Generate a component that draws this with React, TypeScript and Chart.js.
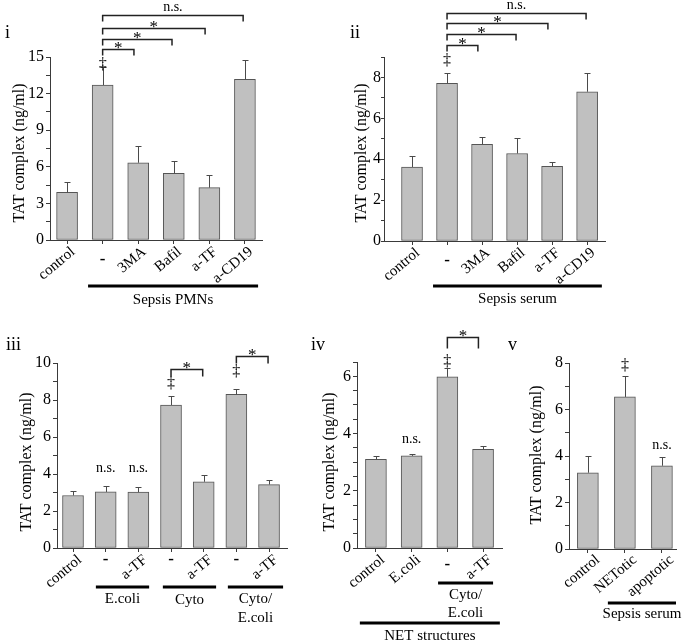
import React, { useEffect, useRef } from 'react';
import { Chart, registerables } from 'chart.js';

Chart.register(...registerables);

const FONT = '"Liberation Serif", "Times New Roman", Times, serif';
const W = 685;
const H = 644;
const YW = 40;
const XH = 10;

// ---------------- data ----------------
// panel i : Sepsis PMNs
const catsI = ['control', '-', '3MA', 'Bafil', 'a-TF', 'a-CD19'];
const meanI = [3.9, 12.7, 6.33, 5.46, 4.29, 13.17];
const errI = [4.73, 14.2, 7.7, 6.5, 5.33, 14.75];
const yAxisI = [15, 1.5, 3]; // max, tick step, labelled step

// panel ii : Sepsis serum
const catsII = ['control', '-', '3MA', 'Bafil', 'a-TF', 'a-CD19'];
const meanII = [3.62, 7.71, 4.73, 4.28, 3.65, 7.3];
const errII = [4.15, 8.2, 5.08, 5.05, 3.87, 8.2];
const yAxisII = [9, 1, 2];

// panel iii : E.coli / Cyto / Cyto+E.coli
const catsIII = ['control', '-', 'a-TF', '-', 'a-TF', '-', 'a-TF'];
const meanIII = [2.84, 3.03, 3.02, 7.73, 3.58, 8.3, 3.43];
const errIII = [3.06, 3.35, 3.3, 8.2, 3.92, 8.62, 3.68];
const yAxisIII = [10, 1, 2];

// panel iv : NET structures
const catsIV = ['control', 'E.coli', '-', 'a-TF'];
const meanIV = [3.1, 3.22, 5.98, 3.45];
const errIV = [3.22, 3.3, 6.3, 3.57];
const yAxisIV = [6.5, 0.5, 2];

// panel v : Sepsis serum
const catsV = ['control', 'NETotic', 'apoptotic'];
const meanV = [3.28, 6.54, 3.58];
const errV = [3.98, 7.42, 3.96];
const yAxisV = [8, 1, 2];

// significance brackets: [from index, to index, y value, text]
const bracketsI: [number, number, number, string][] = [
  [1, 1.88, 15.66, '*'],
  [1, 2.95, 16.48, '*'],
  [1, 3.88, 17.38, '*'],
  [1, 4.95, 18.44, 'n.s.'],
];
const bracketsII: [number, number, number, string][] = [
  [1, 1.88, 9.59, '*'],
  [1, 2.97, 10.13, '*'],
  [1, 3.88, 10.67, '*'],
  [1, 4.97, 11.15, 'n.s.'],
];
const bracketsIII: [number, number, number, string][] = [
  [3, 3.97, 9.68, '*'],
  [5, 5.97, 10.38, '*'],
];
const bracketsIV: [number, number, number, string][] = [[2, 2.87, 7.38, '*']];
const bracketsV: [number, number, number, string][] = [];

// marks above bars: [index, y value, text]
const marksI: [number, number, string][] = [[1, 14.34, '‡']];
const marksII: [number, number, string][] = [[1, 8.8, '‡']];
const marksIII: [number, number, string][] = [
  [1, 4.3, 'n.s.'],
  [2, 4.3, 'n.s.'],
  [3, 8.9, '‡'],
  [5, 9.5, '‡'],
];
const marksIV: [number, number, string][] = [
  [1, 3.81, 'n.s.'],
  [2, 6.5, '‡'],
];
const marksV: [number, number, string][] = [
  [1, 7.9, '‡'],
  [2, 4.47, 'n.s.'],
];

// group labels under the axis
const groupNamesI = [['Sepsis PMNs']];
const groupNamesII = [['Sepsis serum']];
const groupNamesIII = [['E.coli'], ['Cyto'], ['Cyto/', 'E.coli']];
const groupNamesIV = [['Cyto/', 'E.coli'], ['NET structures']];
const groupNamesV = [['Sepsis serum']];

const TITLE = 'TAT complex (ng/ml)';

// ---------------- layout (positions & styles) ----------------
type Layout = {
  name: string;
  nameX: number;
  nameY: number;
  area: [number, number, number, number]; // left, top, right, bottom
  xRange: [number, number];
  titleX: number;
  titleY: number;
  labelDx: number;
  labelDy: number;
  dashDy: number;
  tickLen: number;
  tickPad: number;
  groups: { from: number; to: number; lineDy: number; textDy: number; lineGap: number }[];
  bracketDrop: number;
};

const ROT = (40 * Math.PI) / 180;

const layoutI: Layout = {
  name: 'i', nameX: 5, nameY: 33, area: [50, 57, 262, 240], xRange: [-0.48, 5.48],
  titleX: 20, titleY: 153, labelDx: 6, labelDy: 10, dashDy: 20, tickLen: 4, tickPad: 2,
  groups: [{ from: 0.59, to: 5.37, lineDy: 46, textDy: 60, lineGap: 20 }], bracketDrop: 6,
};
const layoutII: Layout = {
  name: 'ii', nameX: 350, nameY: 33, area: [384, 57, 605, 241], xRange: [-0.8, 5.51],
  titleX: 362, titleY: 153, labelDx: 6, labelDy: 10, dashDy: 20, tickLen: 3, tickPad: 0,
  groups: [{ from: 0.6, to: 5.42, lineDy: 45, textDy: 58, lineGap: 20 }], bracketDrop: 6,
};
const layoutIII: Layout = {
  name: 'iii', nameX: 6, nameY: 345, area: [57, 363, 287, 548], xRange: [-0.49, 6.55],
  titleX: 27, titleY: 462, labelDx: 7, labelDy: 10, dashDy: 12, tickLen: 4, tickPad: 2,
  groups: [
    { from: 0.7, to: 2.33, lineDy: 39, textDy: 51, lineGap: 20 },
    { from: 2.75, to: 4.38, lineDy: 39, textDy: 52, lineGap: 20 },
    { from: 4.74, to: 6.43, lineDy: 39, textDy: 51, lineGap: 19 },
  ], bracketDrop: 7,
};
const layoutIV: Layout = {
  name: 'iv', nameX: 311, nameY: 345, area: [357, 362, 502, 548], xRange: [-0.53, 3.53],
  titleX: 330, titleY: 462, labelDx: 7, labelDy: 10, dashDy: 17, tickLen: 4, tickPad: 2,
  groups: [
    { from: 1.74, to: 3.28, lineDy: 35, textDy: 47, lineGap: 18 },
    { from: -0.45, to: 3.47, lineDy: 75, textDy: 88, lineGap: 20 },
  ], bracketDrop: 11,
};
const layoutV: Layout = {
  name: 'v', nameX: 508, nameY: 345, area: [569, 363, 676, 549], xRange: [-0.51, 2.38],
  titleX: 537, titleY: 455, labelDx: 10, labelDy: 9, dashDy: 17, tickLen: 4, tickPad: 2,
  groups: [{ from: 0.54, to: 2.38, lineDy: 54, textDy: 65, lineGap: 20 }], bracketDrop: 6,
};

type PanelCfg = {
  cats: string[];
  mean: number[];
  err: number[];
  yAxis: number[];
  brackets: [number, number, number, string][];
  marks: [number, number, string][];
  groupNames: string[][];
  layout: Layout;
};

const panels: PanelCfg[] = [
  { cats: catsI, mean: meanI, err: errI, yAxis: yAxisI, brackets: bracketsI, marks: marksI, groupNames: groupNamesI, layout: layoutI },
  { cats: catsII, mean: meanII, err: errII, yAxis: yAxisII, brackets: bracketsII, marks: marksII, groupNames: groupNamesII, layout: layoutII },
  { cats: catsIII, mean: meanIII, err: errIII, yAxis: yAxisIII, brackets: bracketsIII, marks: marksIII, groupNames: groupNamesIII, layout: layoutIII },
  { cats: catsIV, mean: meanIV, err: errIV, yAxis: yAxisIV, brackets: bracketsIV, marks: marksIV, groupNames: groupNamesIV, layout: layoutIV },
  { cats: catsV, mean: meanV, err: errV, yAxis: yAxisV, brackets: bracketsV, marks: marksV, groupNames: groupNamesV, layout: layoutV },
];

const AXIS = '#3a3a3a';
const BAR_FILL = '#c0c0c0';
const BAR_EDGE = '#555555';

function overlay(p: PanelCfg) {
  const L = p.layout;
  return {
    id: 'overlay_' + L.name,
    afterDatasetsDraw(chart: any) {
      const ctx = chart.ctx as CanvasRenderingContext2D;
      const y = chart.scales.y;
      const meta = chart.getDatasetMeta(0);
      ctx.save();
      ctx.strokeStyle = '#4a4a4a';
      ctx.lineWidth = 1;
      meta.data.forEach((el: any, i: number) => {
        const cx = Math.round(el.x) + 0.5;
        const top = y.getPixelForValue(p.mean[i]);
        const e = Math.round(y.getPixelForValue(p.err[i])) + 0.5;
        ctx.beginPath();
        ctx.moveTo(cx, top);
        ctx.lineTo(cx, e);
        ctx.moveTo(cx - 3, e);
        ctx.lineTo(cx + 3, e);
        ctx.stroke();
      });
      ctx.restore();
    },
    afterDraw(chart: any) {
      const ctx = chart.ctx as CanvasRenderingContext2D;
      const x = chart.scales.x;
      const y = chart.scales.y;
      const bottom = chart.chartArea.bottom;
      ctx.save();
      ctx.fillStyle = '#000';
      ctx.strokeStyle = '#222';

      // panel name
      ctx.font = `18px ${FONT}`;
      ctx.textAlign = 'left';
      ctx.textBaseline = 'middle';
      ctx.fillText(L.name, L.nameX, L.nameY);

      // y title
      ctx.save();
      ctx.translate(L.titleX, L.titleY);
      ctx.rotate(-Math.PI / 2);
      ctx.font = `16px ${FONT}`;
      ctx.textAlign = 'center';
      ctx.textBaseline = 'middle';
      ctx.fillText(TITLE, 0, 0);
      ctx.restore();

      // category labels
      p.cats.forEach((c, i) => {
        const px = x.getPixelForValue(i);
        if (c === '-') {
          ctx.font = `bold 17px ${FONT}`;
          ctx.textAlign = 'center';
          ctx.textBaseline = 'middle';
          ctx.fillText('-', px, bottom + L.dashDy);
        } else {
          ctx.save();
          ctx.translate(px + L.labelDx, bottom + L.labelDy);
          ctx.rotate(-ROT);
          ctx.font = `15px ${FONT}`;
          ctx.textAlign = 'right';
          ctx.textBaseline = 'middle';
          ctx.fillText(c, 0, 0);
          ctx.restore();
        }
      });

      // groups
      L.groups.forEach((g, gi) => {
        const x0 = x.getPixelForValue(g.from);
        const x1 = x.getPixelForValue(g.to);
        ctx.lineWidth = 3;
        ctx.strokeStyle = '#000';
        ctx.beginPath();
        ctx.moveTo(x0, bottom + g.lineDy);
        ctx.lineTo(x1, bottom + g.lineDy);
        ctx.stroke();
        ctx.font = `15px ${FONT}`;
        ctx.textAlign = 'center';
        ctx.textBaseline = 'middle';
        (p.groupNames[gi] || []).forEach((t, li) => {
          ctx.fillText(t, (x0 + x1) / 2, bottom + g.textDy + li * g.lineGap);
        });
      });

      // brackets
      ctx.strokeStyle = '#222';
      ctx.lineWidth = 1.5;
      p.brackets.forEach(([a, b, v, t]) => {
        const xa = x.getPixelForValue(a);
        const xb = x.getPixelForValue(b);
        const yy = Math.round(y.getPixelForValue(v)) + 0.5;
        ctx.beginPath();
        ctx.moveTo(xa, yy + L.bracketDrop);
        ctx.lineTo(xa, yy);
        ctx.lineTo(xb, yy);
        ctx.lineTo(xb, yy + L.bracketDrop);
        ctx.stroke();
        ctx.textAlign = 'center';
        if (t === '*') {
          ctx.font = `17px ${FONT}`;
          ctx.textBaseline = 'alphabetic';
          ctx.fillText('*', (xa + xb) / 2, yy + 3);
        } else {
          ctx.font = `14px ${FONT}`;
          ctx.textBaseline = 'alphabetic';
          ctx.fillText(t, (xa + xb) / 2, yy - 5);
        }
      });

      // marks
      p.marks.forEach(([i, v, t]) => {
        const px = x.getPixelForValue(i);
        const py = y.getPixelForValue(v);
        ctx.textAlign = 'center';
        ctx.textBaseline = 'middle';
        ctx.font = t === '‡' ? `16px ${FONT}` : `14px ${FONT}`;
        ctx.fillText(t, px, py);
      });
      ctx.restore();
    },
  };
}

function Panel({ p }: { p: PanelCfg }) {
  const ref = useRef<HTMLCanvasElement>(null);
  useEffect(() => {
    const canvas = ref.current;
    if (!canvas) return;
    const L = p.layout;
    const [left, top, right, bottom] = L.area;
    const [yMax, yStep, yLabelStep] = p.yAxis;
    const chart = new Chart(canvas, {
      type: 'bar',
      data: {
        datasets: [
          {
            data: p.mean.map((v, i) => ({ x: i, y: v })),
            backgroundColor: BAR_FILL,
            borderColor: BAR_EDGE,
            borderWidth: 1,
            borderSkipped: false,
            barThickness: 21,
          } as any,
        ],
      },
      options: {
        responsive: false,
        animation: false,
        devicePixelRatio: 1,
        events: [],
        layout: {
          padding: { left: left - YW, top, right: W - right, bottom: H - bottom - XH },
        },
        plugins: { legend: { display: false }, tooltip: { enabled: false } },
        scales: {
          x: {
            type: 'linear',
            bounds: 'data',
            min: L.xRange[0],
            max: L.xRange[1],
            offset: false,
            afterFit: (s: any) => { s.height = XH; },
            afterBuildTicks: (s: any) => { s.ticks = p.cats.map((_, i) => ({ value: i })); },
            ticks: { display: false },
            grid: { display: true, offset: false, drawOnChartArea: false, drawTicks: true, tickLength: 4, color: AXIS, lineWidth: 1 },
            border: { display: true, color: AXIS, width: 1 },
          },
          y: {
            min: 0,
            max: yMax,
            afterFit: (s: any) => { s.width = YW; },
            ticks: {
              stepSize: yStep,
              autoSkip: false,
              includeBounds: false,
              padding: L.tickPad,
              color: '#000',
              font: { family: FONT, size: 16 },
              callback: (v: any) => {
                const r = Number(v) / yLabelStep;
                return Math.abs(r - Math.round(r)) < 1e-6 ? String(Math.round(Number(v) * 100) / 100) : '';
              },
            },
            grid: { display: true, drawOnChartArea: false, drawTicks: true, tickLength: L.tickLen, color: AXIS, lineWidth: 1 },
            border: { display: true, color: AXIS, width: 1 },
          },
        },
      } as any,
      plugins: [overlay(p)],
    });
    return () => chart.destroy();
  }, [p]);
  return (
    <canvas
      ref={ref}
      width={W}
      height={H}
      style={{ position: 'absolute', left: 0, top: 0, width: W, height: H }}
    />
  );
}

export default function App() {
  return (
    <div style={{ position: 'absolute', left: 0, top: 0, width: W, height: H, background: '#fff', overflow: 'hidden' }}>
      {panels.map((p) => (
        <Panel key={p.layout.name} p={p} />
      ))}
    </div>
  );
}
